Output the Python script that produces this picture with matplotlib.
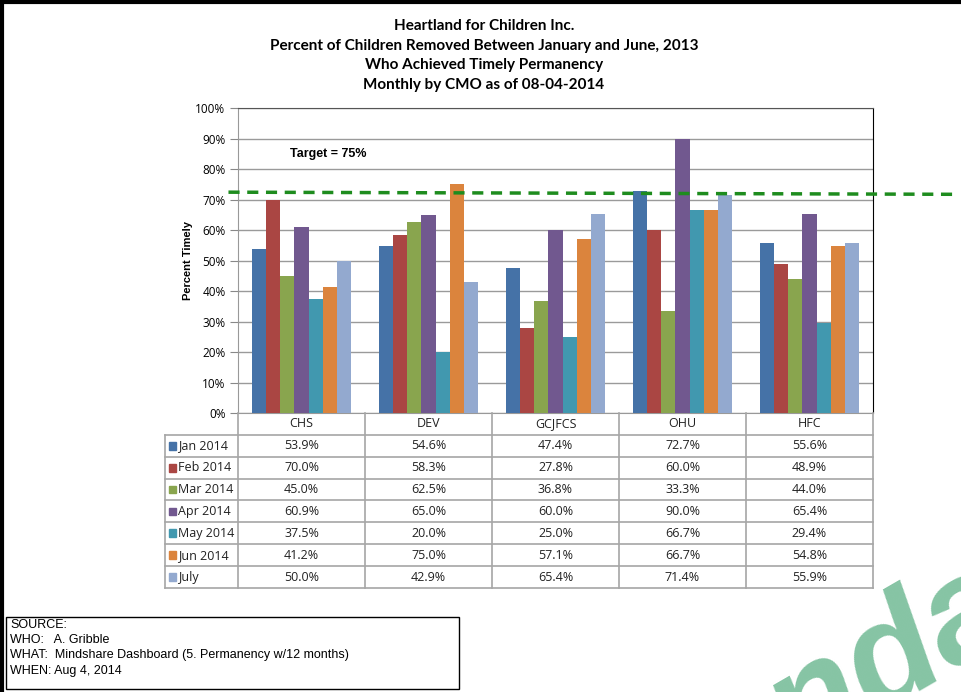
import matplotlib.pyplot as plt
import matplotlib.lines as mlines
import matplotlib.patches as mpatches
import numpy as np

# data
cmos = ["CHS", "DEV", "GCJFCS", "OHU", "HFC"]
months = ["Jan 2014", "Feb 2014", "Mar 2014", "Apr 2014", "May 2014", "Jun 2014", "July"]
jan = [53.9, 54.6, 47.4, 72.7, 55.6]
feb = [70.0, 58.3, 27.8, 60.0, 48.9]
mar = [45.0, 62.5, 36.8, 33.3, 44.0]
apr = [60.9, 65.0, 60.0, 90.0, 65.4]
may = [37.5, 20.0, 25.0, 66.7, 29.4]
jun = [41.2, 75.0, 57.1, 66.7, 54.8]
jul = [50.0, 42.9, 65.4, 71.4, 55.9]
series = [jan, feb, mar, apr, may, jun, jul]
colors = ["#4572A7", "#AA4643", "#89A54E", "#71588F", "#4198AF", "#DB843D", "#93A9CF"]
target_line = [72.4, 71.7]  # as drawn (label says 75%)

W, H = 961, 692
fig = plt.figure(figsize=(W / 100, H / 100), dpi=100)

def fx(px):
    return px / W

def fy(py):
    return 1 - py / H

title_font = ["Lato", "DejaVu Sans"]
body_font = ["Open Sans", "DejaVu Sans"]

# frame of the page
fig.add_artist(mlines.Line2D([fx(1.5), fx(1.5)], [0, 1], color="black", lw=3))
fig.add_artist(mlines.Line2D([0, 1], [fy(1.5), fy(1.5)], color="black", lw=3))

fig.text(fx(484), fy(19), "Heartland for Children Inc.\n"
         "Percent of Children Removed Between January and June, 2013\n"
         "Who Achieved Timely Permanency\n"
         "Monthly by CMO as of 08-04-2014",
         ha="center", va="top", fontsize=11, fontweight="bold",
         family=title_font, linespacing=1.52)

# main bar chart
left, right, top, bottom = 238, 873, 108, 413
ax = fig.add_axes([fx(left), fy(bottom), fx(right - left), (bottom - top) / H])
x = np.arange(len(cmos))
bw = 0.112
for j, (vals, c) in enumerate(zip(series, colors)):
    ax.bar(x + (j - 3) * bw, vals, bw, color=c, zorder=3)

ax.set_xlim(-0.5, len(cmos) - 0.5)
ax.set_ylim(0, 100)
ax.set_yticks(np.arange(0, 101, 10))
ax.set_yticklabels([f"{v}%" for v in range(0, 101, 10)], family=body_font, fontsize=8.5)
ax.set_xticks([])
ax.yaxis.grid(True, color="#9A9A9A", lw=1, zorder=0)
ax.tick_params(axis="y", length=6, color="#888888", pad=3)
ax.spines["left"].set_color("#999999")
ax.spines["bottom"].set_color("#999999")
ax.spines["top"].set_color("#555555")
ax.spines["right"].set_color("black")
ax.set_ylabel("Percent Timely", fontsize=8, fontweight="bold",
              family=["Liberation Sans", "DejaVu Sans"], labelpad=2)

ax.plot([-0.575, 5.17], target_line, color="#1E8C1E", lw=2.5, ls=(0, (3.2, 2.2)),
        clip_on=False, zorder=5)
ax.text(-0.09, 85, "Target = 75%", fontsize=9, fontweight="bold",
        family=["Liberation Sans", "DejaVu Sans"], va="center")

# data table under the chart
tax = fig.add_axes([fx(165), fy(588), fx(right - 165), (588 - bottom) / H])
lab_left = -0.5 - (left - 165) / ((right - left) / len(cmos))
tax.set_xlim(lab_left, len(cmos) - 0.5)
tax.set_ylim(len(months) + 1, 0)
tax.axis("off")
gc = "#A6A6A6"
# horizontal rules
for r in range(1, len(months) + 2):
    tax.plot([lab_left, len(cmos) - 0.5], [r, r], color=gc, lw=1.2, clip_on=False)
# vertical rules
tax.plot([lab_left, lab_left], [1, len(months) + 1], color=gc, lw=1.2, clip_on=False)
for k in range(len(cmos) + 1):
    tax.plot([k - 0.5, k - 0.5], [0, len(months) + 1], color=gc, lw=1.2, clip_on=False)

for i, name in enumerate(cmos):
    tax.text(i, 0.5, name, ha="center", va="center", fontsize=9, family=body_font, color="#222222")
for r, (m, vals, c) in enumerate(zip(months, series, colors)):
    tax.add_patch(mpatches.Rectangle((lab_left + 0.03, r + 1.32), 0.055, 0.36, color=c))
    tax.text(lab_left + 0.105, r + 1.5, m, ha="left", va="center", fontsize=9,
             family=body_font, color="#222222")
    for i, v in enumerate(vals):
        tax.text(i, r + 1.5, f"{v:.1f}%", ha="center", va="center", fontsize=9,
                 family=body_font, color="#222222")

# source box
fig.add_artist(mpatches.Rectangle((fx(6), fy(689)), fx(453), (689 - 617) / H,
                                  fill=False, ec="black", lw=1))
src = ["SOURCE:", "WHO:   A. Gribble",
       "WHAT:  Mindshare Dashboard (5. Permanency w/12 months)",
       "WHEN: Aug 4, 2014"]
for i, s in enumerate(src):
    fig.text(fx(10), fy(625 + i * 15.2), s, fontsize=9, va="center",
             family=["Liberation Sans Narrow", "Liberation Sans", "DejaVu Sans"])

# watermark, cut off by the page edge as in the scan
fig.text(fx(797), fy(759), "nda", fontsize=105, fontweight="bold", style="italic",
         color="#86C4A4", rotation=30, rotation_mode="anchor",
         family=["Liberation Sans", "DejaVu Sans"],
         ha="left", va="baseline", zorder=0)

fig.savefig("out.png", dpi=100)
